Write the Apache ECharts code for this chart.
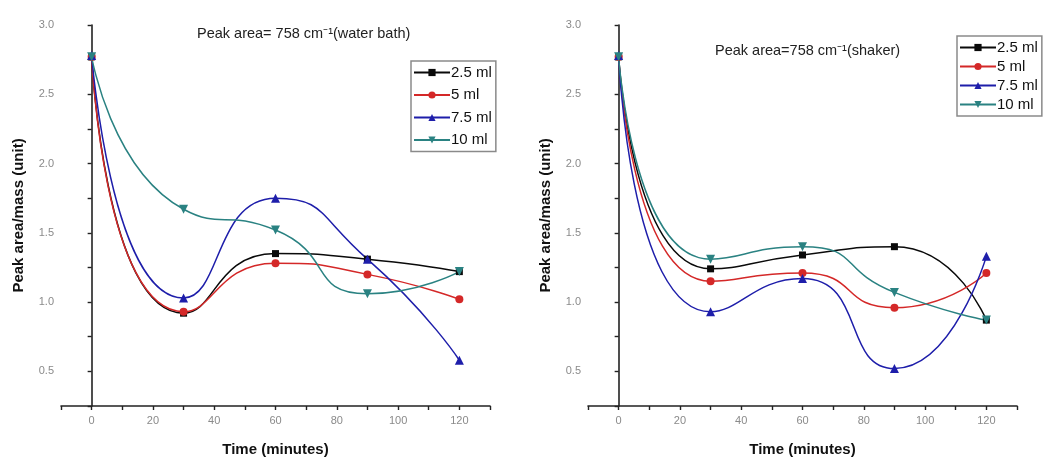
<!DOCTYPE html>
<html>
<head>
<meta charset="utf-8">
<script src="https://cdn.jsdelivr.net/npm/echarts@6/dist/echarts.min.js"></script>
<style>html,body{margin:0;padding:0;background:#fff;}#c{width:1045px;height:462px;}</style>
</head>
<body>
<div id="c"></div>
<script>
const times = [0, 30, 60, 90, 120];
const seriesNames = ['2.5 ml', '5 ml', '7.5 ml', '10 ml'];
// water bath
const wb_25 = [2.77, 0.92, 1.35, 1.31, 1.22];
const wb_5 = [2.77, 0.93, 1.28, 1.20, 1.02];
const wb_75 = [2.78, 1.03, 1.75, 1.31, 0.58];
const wb_10 = [2.77, 1.67, 1.52, 1.06, 1.22];
// shaker
const sh_25 = [2.77, 1.24, 1.34, 1.40, 0.87];
const sh_5 = [2.77, 1.15, 1.21, 0.96, 1.21];
const sh_75 = [2.78, 0.93, 1.17, 0.52, 1.33];
const sh_10 = [2.77, 1.31, 1.40, 1.07, 0.87];
const titles = ['Peak area= 758 cm\u207B\u00B9(water bath)', 'Peak area=758 cm\u207B\u00B9(shaker)'];
const xTitle = 'Time (minutes)';
const yTitle = 'Peak area/mass (unit)';

const colors = ['#0a0a0a', '#d42828', '#1e1eaa', '#2a8282'];
const symbols = ['rect', 'circle', 'triangle', 'path://M0,0 L10,0 L5,9 Z'];
const symbolSizes = [7, 8, 9, 9];
const groups = [[wb_25, wb_5, wb_75, wb_10], [sh_25, sh_5, sh_75, sh_10]];

const series = [];
groups.forEach((g, gi) => {
  g.forEach((vals, si) => {
    series.push({
      name: seriesNames[si],
      type: 'line',
      xAxisIndex: gi, yAxisIndex: gi,
      data: times.map((t, i) => [t, vals[i]]),
      smooth: 0.6,
      symbol: symbols[si],
      symbolSize: symbolSizes[si],
      showAllSymbol: true,
      lineStyle: { color: colors[si], width: 1.5 },
      itemStyle: { color: colors[si] },
      emphasis: { disabled: true },
      animation: false
    });
  });
});

function xAxis(gi) {
  return {
    type: 'value', gridIndex: gi, min: -10, max: 130, interval: 10,
    name: xTitle, nameLocation: 'middle', nameGap: 36,
    nameTextStyle: { fontFamily: 'Liberation Sans', fontWeight: 'bold', fontSize: 15, color: '#111' },
    axisLine: { lineStyle: { color: '#222', width: 1.6 } },
    axisTick: { inside: false, length: 4, lineStyle: { color: '#222', width: 1.4 } },
    axisLabel: { color: '#8a8a8a', fontSize: 11, fontFamily: 'Liberation Sans', margin: 9,
      formatter: v => (v % 20 === 0 ? String(v) : '') },
    splitLine: { show: false }
  };
}
function yAxis(gi) {
  return {
    type: 'value', gridIndex: gi, min: 0.25, max: 3.0, interval: 0.25,
    name: yTitle, nameLocation: 'middle', nameGap: 35,
    nameTextStyle: { fontFamily: 'Liberation Sans', fontWeight: 'bold', fontSize: 15, color: '#111' },
    axisLine: { show: true, lineStyle: { color: '#222', width: 1.6 } },
    axisTick: { show: true, length: 4, lineStyle: { color: '#222', width: 1.4 } },
    axisLabel: { color: '#8a8a8a', fontSize: 11, fontFamily: 'Liberation Sans', margin: 7,
      formatter: v => (Math.round(v * 100) % 50 === 0 ? v.toFixed(1) : '') },
    splitLine: { show: false }
  };
}

function legend(left, top, gap) {
  return {
    data: seriesNames, left: left, top: top, orient: 'vertical',
    itemWidth: 36, itemHeight: 9, itemGap: gap,
    padding: [4, 4, 4, 2],
    borderColor: '#8a8a8a', borderWidth: 1.5,
    textStyle: { fontFamily: 'Liberation Sans', fontSize: 15, color: '#111', padding: [0, 0, 0, -4] },
    selectedMode: false
  };
}

const chart = echarts.init(document.getElementById('c'));
chart.setOption({
  backgroundColor: '#fff',
  animation: false,
  title: [
    { text: titles[0], left: 192, top: 21, textStyle: { fontFamily: 'Liberation Sans', fontSize: 14.5, fontWeight: 'normal', color: '#222' } },
    { text: titles[1], left: 710, top: 38, textStyle: { fontFamily: 'Liberation Sans', fontSize: 14.5, fontWeight: 'normal', color: '#222' } }
  ],
  legend: [legend(411, 61, 7.5), legend(957, 36, 4)],
  grid: [
    { left: 61, right: 555, top: 25, bottom: 54 },
    { left: 588, right: 28, top: 25, bottom: 54 }
  ],
  xAxis: [xAxis(0), xAxis(1)],
  yAxis: [yAxis(0), yAxis(1)],
  series: series
});
</script>
</body>
</html>
